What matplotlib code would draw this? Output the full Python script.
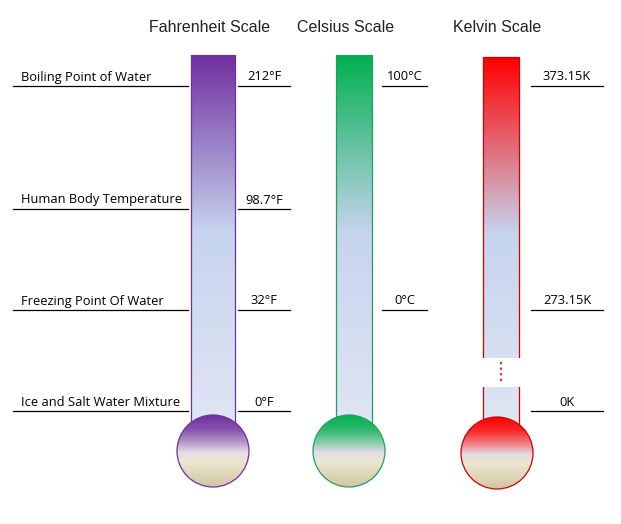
import matplotlib.pyplot as plt
import numpy as np
from matplotlib.patches import Rectangle, Circle
from matplotlib.colors import LinearSegmentedColormap, to_rgb

# scales
scales = ['Fahrenheit Scale', 'Celsius Scale', 'Kelvin Scale']
top_colors = ['#7030a0', '#00b050', '#ff0000']
edge_colors = ['#7030a0', '#20a060', '#d00000']

# reference points
points = ['Boiling Point of Water', 'Human Body Temperature',
          'Freezing Point Of Water', 'Ice and Salt Water Mixture']
fahrenheit = ['212°F', '98.7°F', '32°F', '0°F']
celsius = ['100°C', '', '0°C', '']
kelvin = ['373.15K', '', '273.15K', '0K']

W, H = 621, 524
fig = plt.figure(figsize=(W / 100, H / 100), dpi=100)
ax = fig.add_axes([0, 0, 1, 1])
ax.set_xlim(0, W)
ax.set_ylim(H, 0)
ax.axis('off')

# layout in pixels
tube_x = [(191, 235), (336, 372), (483, 519)]
tube_top = [55, 55, 57]
tube_bottom = 425
bulb_c = [(213, 451), (349, 451), (497, 453)]
bulb_r = 36
title_x = [210, 346, 497]
level_y = [86, 209, 310, 411]
right_lines = [(238, 290), (382, 427), (531, 603)]

label_font = 'Open Sans'


def mix(a, b, t):
    a, b = np.array(to_rgb(a)), np.array(to_rgb(b))
    return tuple(a * (1 - t) + b * t)


def tube_cmap(c):
    return LinearSegmentedColormap.from_list(
        't', [(0, c), (0.48, '#c6d4ee'), (1, '#dfe6f3')])


def bulb_cmap(c):
    light = '#e4dde6'
    return LinearSegmentedColormap.from_list(
        'b', [(0, c), (0.2, mix(c, light, 0.2)), (0.38, mix(c, light, 0.6)),
              (0.52, light), (0.65, '#ebe6d0'), (1, '#d2c5a3')])


grad = np.linspace(0, 1, 256).reshape(-1, 1)

for i in range(3):
    x0, x1 = tube_x[i]
    top = tube_top[i]
    # tube
    im = ax.imshow(grad, cmap=tube_cmap(top_colors[i]), aspect='auto',
                   extent=(x0, x1, tube_bottom, top), zorder=2)
    rect = Rectangle((x0, top), x1 - x0, tube_bottom - top,
                     fc='none', ec=edge_colors[i], lw=0.9, zorder=3)
    ax.add_patch(rect)
    im.set_clip_path(rect)
    # bulb
    cx, cy = bulb_c[i]
    im2 = ax.imshow(grad, cmap=bulb_cmap(top_colors[i]), aspect='auto',
                    extent=(cx - bulb_r, cx + bulb_r, cy + bulb_r, cy - bulb_r),
                    zorder=4)
    circ = Circle((cx, cy), bulb_r, fc='none', ec=edge_colors[i], lw=0.9,
                  zorder=5)
    ax.add_patch(circ)
    im2.set_clip_path(circ)
    ax.text(title_x[i], 28, scales[i], ha='center', va='center',
            fontsize=11.5, family='Liberation Sans', color='#222222')

# kelvin break
ax.add_patch(Rectangle((480, 358), 42, 29, fc='white', ec='none', zorder=6))
ax.plot([501, 501], [362, 384], ls=(0, (1, 1.5)), color='#e03030', lw=1.6,
        zorder=7)

# left labels
for y, name in zip(level_y, points):
    ax.plot([13, 188], [y, y], color='black', lw=0.9)
    ax.text(21, y - 9, name, ha='left', va='center', fontsize=9.3,
            family=label_font)

# right labels
for vals, (xa, xb) in zip([fahrenheit, celsius, kelvin], right_lines):
    for y, v in zip(level_y, vals):
        if not v:
            continue
        ax.plot([xa, xb], [y, y], color='black', lw=0.9)
        ax.text((xa + xb) / 2, y - 9, v, ha='center', va='center',
                fontsize=9.3, family=label_font)

fig.savefig('out.png', dpi=100)
